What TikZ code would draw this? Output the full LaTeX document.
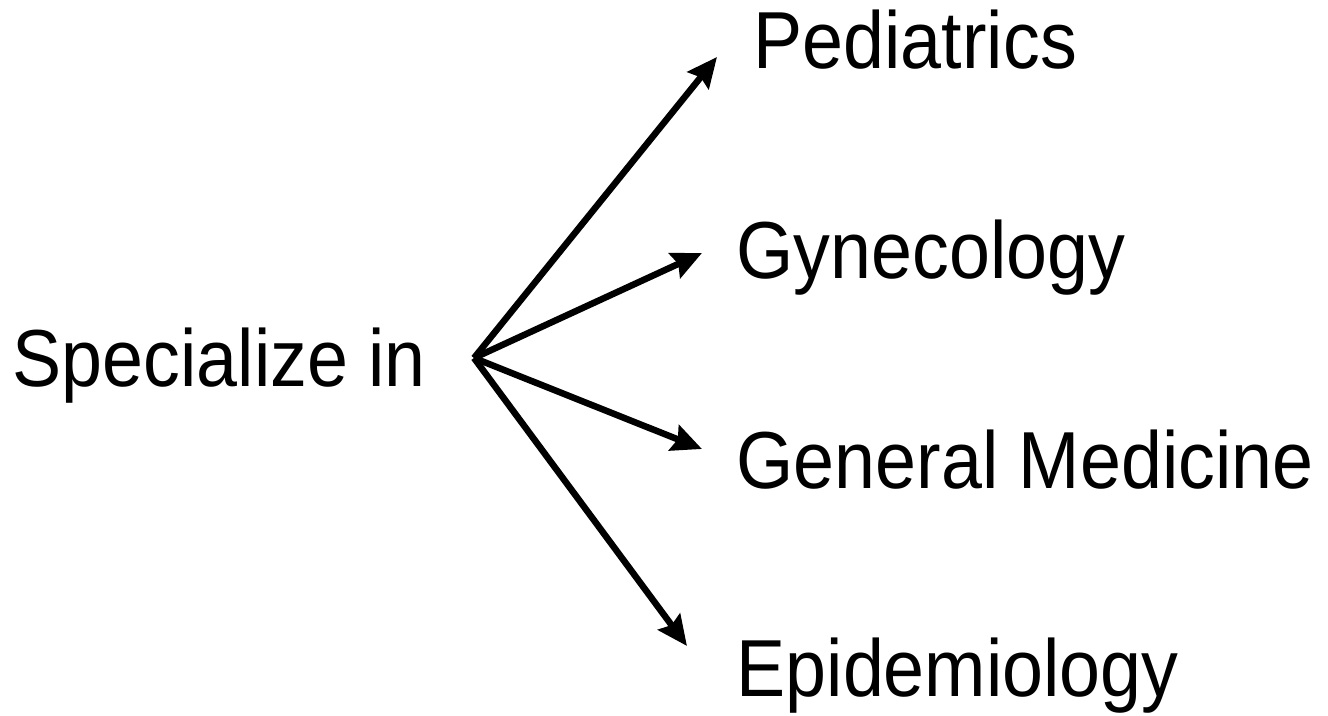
\documentclass[tikz,border=0pt]{standalone}
\usepackage{fontspec}
\setmainfont{Liberation Sans}[FakeStretch=0.91]
\usetikzlibrary{arrows.meta}

\begin{document}
\begin{tikzpicture}[x=0.01cm,y=-0.01cm,
        lbl/.style={anchor=base west, inner sep=0pt,
                        font=\fontsize{23}{28}\selectfont},
        arr/.style={line width=0.065cm,
                        -{Stealth[length=0.3cm,width=0.27cm,inset=0.04cm]}}]
        \useasboundingbox (0,0) rectangle (1328,715);

        \node[lbl] (spec) at (12,386) {Specialize in};
        \node[lbl] (ped) at (753,68) {Pediatrics};
        \node[lbl] (gyn) at (736,278) {Gynecology};
        \node[lbl] (gen) at (736,488) {General Medicine};
        \node[lbl] (epi) at (736,696) {Epidemiology};

        \coordinate (src) at (474,358);
        \coordinate (toped) at (717,57);
        \coordinate (togyn) at (702,253);
        \coordinate (togen) at (702,449);
        \coordinate (toepi) at (687,646);

        \foreach \t in {toped,togyn,togen,toepi}
            \draw[arr] (src) -- (\t);
\end{tikzpicture}
\end{document}
